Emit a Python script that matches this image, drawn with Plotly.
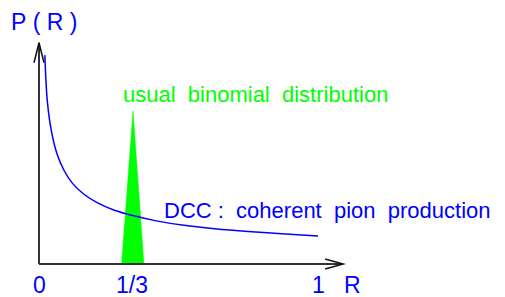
import plotly.graph_objects as go

# DCC distribution curve P(R)
dcc_R = [0.021, 0.03, 0.045, 0.065, 0.09, 0.12, 0.16, 0.21, 0.27, 0.34, 0.42, 0.52, 0.63, 0.75, 0.87, 1.0]
dcc_P = [3.73, 2.9, 2.36, 1.96, 1.67, 1.44, 1.25, 1.09, 0.96, 0.86, 0.77, 0.69, 0.63, 0.58, 0.54, 0.50]

# usual binomial distribution: narrow peak around R = 1/3
binom_R = [0.296, 0.337, 0.376]
binom_P = [0.0, 2.73, 0.0]

# axis ticks
tick_vals = [0, 1/3, 1]
tick_text = ["0", "1/3", "1"]
x_axis_end = 1.09
y_axis_end = 3.95

BLUE = "#0000ff"
GREEN = "#00ff00"
AXIS = "#333333"
FONT = "Liberation Sans, Arial, sans-serif"
NB = "\u00a0"

# the page body has an 8px margin, so the figure is 8px smaller than the window
W, H = 497, 289
X0, Y0 = 31, 256          # pixel position of R=0, P=0 inside the figure
SX, SY = 279, 56          # pixels per unit

fig = go.Figure()
fig.add_trace(go.Scatter(x=binom_R, y=binom_P, mode="lines", fill="toself",
                         fillcolor=GREEN, line=dict(color=GREEN, width=0.5),
                         hoverinfo="skip", showlegend=False))
fig.add_trace(go.Scatter(x=dcc_R, y=dcc_P, mode="lines", line=dict(color=BLUE, width=1.5, shape="spline"),
                         hoverinfo="skip", showlegend=False))

# axes with open arrowheads
fig.add_shape(type="line", x0=0, y0=0, x1=x_axis_end, y1=0, line=dict(color=AXIS, width=2), layer="above")
fig.add_shape(type="line", x0=0, y0=0, x1=0, y1=y_axis_end, line=dict(color=AXIS, width=2), layer="above")
fig.add_shape(type="path", xsizemode="pixel", ysizemode="pixel", xanchor=x_axis_end, yanchor=0,
              path="M -18 5 L 0 0 L -18 -5", line=dict(color="#111111", width=1.5), layer="above")
fig.add_shape(type="path", xsizemode="pixel", ysizemode="pixel", xanchor=0, yanchor=y_axis_end,
              path="M -5 -20 L 0 0 L 5 -20", line=dict(color="#111111", width=1.5), layer="above")

annots = []
for v, t in zip(tick_vals, tick_text):
    annots.append(dict(x=v, y=-0.375, text=t, showarrow=False, xanchor="center", yanchor="middle",
                       font=dict(family=FONT, size=23, color=BLUE)))
annots.append(dict(x=1.125, y=-0.375, text="R", showarrow=False, xanchor="center", yanchor="middle",
                   font=dict(family=FONT, size=23, color=BLUE)))
annots.append(dict(x=-0.108, y=4.32, text="P" + NB + "(" + NB + "R" + NB + ")", showarrow=False,
                   xanchor="left", yanchor="middle", font=dict(family=FONT, size=23, color=BLUE)))
annots.append(dict(x=0.294, y=3.02, text=("usual" + NB * 2 + "binomial" + NB * 2 + "distribution"),
                   showarrow=False, xanchor="left", yanchor="middle",
                   font=dict(family=FONT, size=22, color=GREEN)))
annots.append(dict(x=0.442, y=0.96, text=("DCC" + NB + ":" + NB * 2 + "coherent" + NB * 2 + "pion" + NB * 2 + "production"),
                   showarrow=False, xanchor="left", yanchor="middle",
                   font=dict(family=FONT, size=22, color=BLUE)))

fig.update_layout(
    width=W, height=H,
    margin=dict(l=0, r=0, t=0, b=0),
    paper_bgcolor="white", plot_bgcolor="white",
    xaxis=dict(range=[-X0 / SX, (W - X0) / SX], visible=False, fixedrange=True),
    yaxis=dict(range=[(Y0 - H) / SY, Y0 / SY], visible=False, fixedrange=True),
    annotations=annots,
    showlegend=False,
)

fig.write_html("out.html", config={"displayModeBar": False})
